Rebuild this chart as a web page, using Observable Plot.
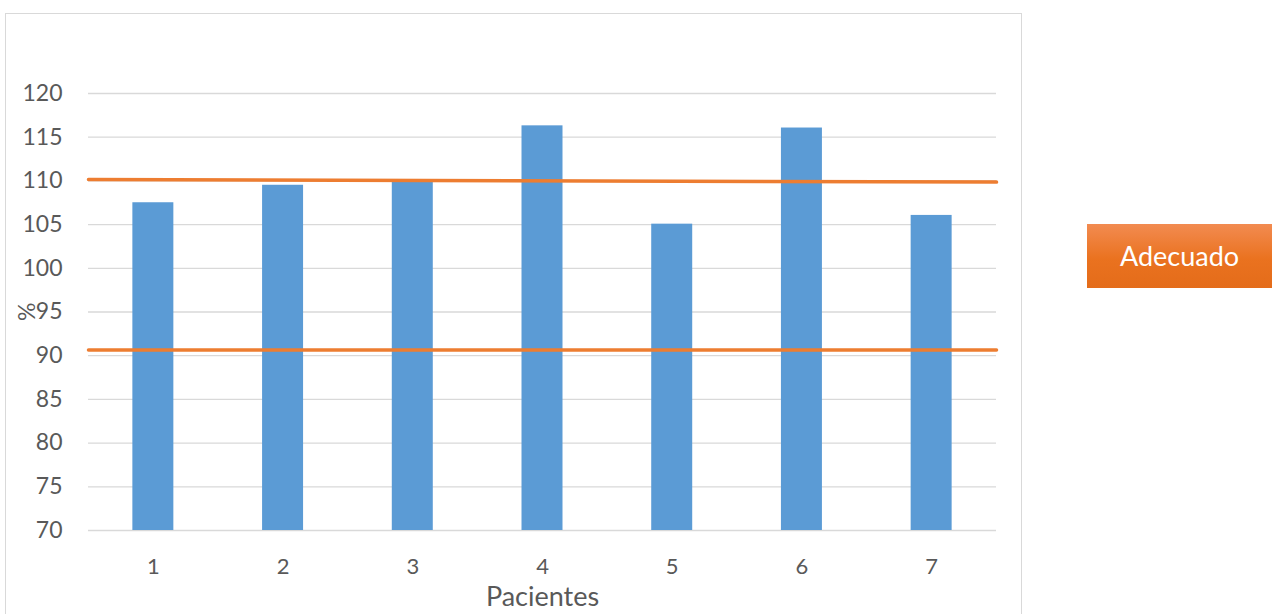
<!DOCTYPE html>
<html>
<head>
<meta charset="utf-8">
<script src="https://cdn.jsdelivr.net/npm/d3@7"></script>
<script src="https://cdn.jsdelivr.net/npm/@observablehq/plot@0.6"></script>
<style>
  html, body { margin: 0; padding: 0; background: #fff; }
  #wrap { position: relative; width: 1272px; height: 614px; overflow: hidden; font-family: Lato, sans-serif; }
  #frame { position: absolute; left: 5px; top: 13px; width: 1017px; height: 620px; border: 1.5px solid #d9d9d9; box-sizing: border-box; pointer-events: none; }
  #legend { position: absolute; left: 1087px; top: 224px; width: 200px; height: 64px;
    background: linear-gradient(#f28b51, #ea721f 55%, #e46c1a); color: #fff; font-size: 27px;
    line-height: 64px; padding-left: 33px; box-sizing: border-box; }
  svg { position: absolute; left: 0; top: 0; }
</style>
</head>
<body>
<div id="wrap">
  <div id="chart"></div>
  <div id="frame"></div>
  <div id="legend">Adecuado</div>
</div>
<script>
const patients = [1, 2, 3, 4, 5, 6, 7];
const values = [107.5, 109.5, 110.0, 116.3, 105.05, 116.05, 106.05];
const yTicks = [70, 75, 80, 85, 90, 95, 100, 105, 110, 115, 120];
const upperLimitX = [0.5, 7.5];
const upperLimitY = [110.15, 109.86];
const lowerLimitY = [90.66, 90.66];
const barHalf = 0.158;

const bars = patients.map((p, i) => ({p, v: values[i]}));
const upper = upperLimitX.map((x, i) => ({x, y: upperLimitY[i]}));
const lower = upperLimitX.map((x, i) => ({x, y: lowerLimitY[i]}));

const chart = Plot.plot({
  width: 1272,
  height: 614,
  marginLeft: 88,
  marginRight: 276,
  marginTop: 93,
  marginBottom: 84,
  style: {fontFamily: "Lato, sans-serif", color: "#595959", background: "transparent", overflow: "visible"},
  x: {domain: [0.5, 7.5], ticks: patients, tickFormat: d3.format("d")},
  y: {domain: [70, 120], ticks: yTicks},
  marks: [
    Plot.ruleY(yTicks, {stroke: "#d9d9d9", strokeWidth: 1.3}),
    Plot.rectY(bars, {x1: d => d.p - barHalf, x2: d => d.p + barHalf, y1: 70, y2: "v", fill: "#5b9bd5"}),
    Plot.line(upper, {x: "x", y: "y", stroke: "#ed7d31", strokeWidth: 3.5}),
    Plot.line(lower, {x: "x", y: "y", stroke: "#ed7d31", strokeWidth: 3.5}),
    Plot.axisY({ticks: yTicks, tickSize: 0, tickPadding: 26, fontSize: 23, label: null}),
    Plot.axisX({ticks: patients, tickFormat: d3.format("d"), tickSize: 0, tickPadding: 28, fontSize: 22, label: null}),
    Plot.text(["%"], {frameAnchor: "left", dx: -61, dy: 9, rotate: -90, fontSize: 23, fill: "#595959"}),
    Plot.text(["Pacientes"], {frameAnchor: "bottom", dy: 75, fontSize: 27, fill: "#595959"})
  ]
});
document.getElementById("chart").appendChild(chart);
</script>
</body>
</html>
